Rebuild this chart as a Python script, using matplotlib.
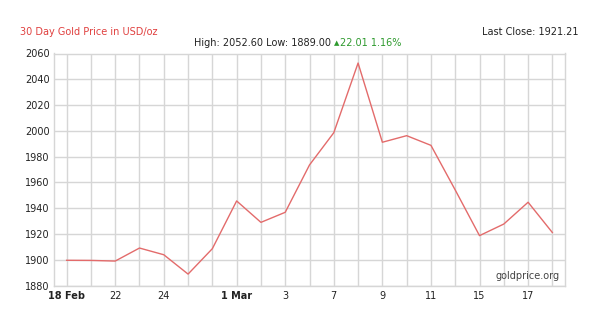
import matplotlib
matplotlib.use("Agg")
import matplotlib.pyplot as plt

# trading days, 18 Feb - 18 Mar
day_labels = ["18 Feb", "", "22", "", "24", "", "", "1 Mar", "", "3", "",
              "7", "", "9", "", "11", "", "15", "", "17", ""]
bold_labels = ["18 Feb", "1 Mar"]
prices = [1899.7, 1899.6, 1899.1, 1909.2, 1904.0, 1889.0, 1908.7, 1945.7,
          1929.1, 1936.9, 1973.6, 1998.6, 2052.6, 1991.2, 1996.3, 1988.8,
          1954.2, 1918.8, 1927.8, 1944.7, 1921.21]
y_ticks = [1880, 1900, 1920, 1940, 1960, 1980, 2000, 2020, 2040, 2060]

title = "30 Day Gold Price in USD/oz"
stats_text = "High: 2052.60 Low: 1889.00"
change_text = "22.01 1.16%"
last_close = "Last Close: 1921.21"

GRID = "#d6d6d6"
LINE = "#e36b6b"
GREEN = "#2e9a2e"

fig = plt.figure(figsize=(6, 3.12), dpi=100)
ax = fig.add_axes([54 / 600, 1 - 285.7 / 312, (565 - 54) / 600, (285.7 - 53.5) / 312])

x = list(range(len(prices)))
ax.plot(x, prices, color=LINE, lw=1.0, zorder=3)

ax.set_xlim(-0.52, len(prices) - 0.48)
ax.set_ylim(1880, 2060)
ax.set_xticks(x)
ax.set_xticklabels(day_labels)
ax.set_yticks(y_ticks)
ax.grid(True, color=GRID, lw=1.0)
ax.set_axisbelow(True)
ax.tick_params(length=0, labelsize=7, colors="#222222", pad=3)
ax.tick_params(axis="x", pad=4)
for lbl in ax.get_xticklabels():
    if lbl.get_text() in bold_labels:
        lbl.set_fontweight("bold")
for s in ax.spines.values():
    s.set_color(GRID)
    s.set_linewidth(1.0)

ax.text(0.99, 0.02, "goldprice.org", transform=ax.transAxes, ha="right",
        va="bottom", fontsize=7, color="#444444")

fig.text(20 / 600, 1 - 32 / 312, title, color="#e0403f", fontsize=7,
         ha="left", va="center")
fig.text(579 / 600, 1 - 32 / 312, last_close, color="#222222", fontsize=7,
         ha="right", va="center")
fig.text(331 / 600, 1 - 43 / 312, stats_text, color="#222222", fontsize=7,
         ha="right", va="center")
fig.text(334 / 600, 1 - 43.5 / 312, "\u25b2", color=GREEN, fontsize=5,
         ha="left", va="center")
fig.text(340 / 600, 1 - 43 / 312, change_text, color=GREEN, fontsize=7,
         ha="left", va="center")

fig.savefig("out.png", dpi=100, facecolor="white")
